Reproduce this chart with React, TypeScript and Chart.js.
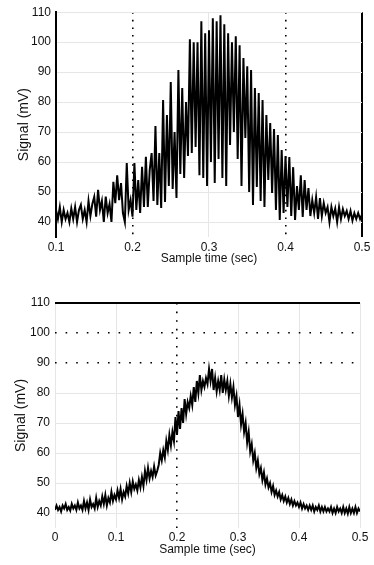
import React, { useEffect, useRef } from 'react';
import { Chart, registerables } from 'chart.js';

Chart.register(...registerables);

// Sampling grid
const TOP_START = 0.1;
const BOTTOM_START = 0;
const SAMPLE_STEP = 0.0025;

// Top panel signal (mV), one value per sample from 0.1 s to 0.5 s
const TOP_SIGNAL = [
  44, 41, 45, 40, 44, 41, 43, 40, 44.5, 41,
  45, 40, 44, 45.7, 41, 44, 40, 47, 42, 46,
  48.4, 41.8, 50.7, 44, 47, 40, 48.5, 43, 46, 40,
  53.4, 46.3, 55.6, 47.3, 53, 43, 40, 59.7, 44, 47.3,
  41.8, 59.7, 44, 54, 43, 58.4, 45, 61.8, 45, 57.3,
  63, 47, 72, 45.7, 63, 44.7, 80.7, 46.7, 75.7, 52,
  86.7, 51, 70, 48, 90.7, 56, 84.7, 54.7, 80, 62,
  101, 63, 100, 65, 100, 55.6, 107, 54.7, 103, 52,
  104, 60, 108, 53, 107, 61, 109, 54.7, 106, 52,
  103, 65.7, 100, 70, 102, 61, 99, 52, 94.7, 68,
  92, 50, 90.7, 45.7, 84.7, 51.7, 83, 47, 80.7, 45,
  75.7, 54, 73, 49.7, 71, 44, 69, 40.7, 64, 43,
  62, 45, 61.7, 42, 58.3, 40.7, 52, 44, 55.6, 41.7,
  54, 44, 51.3, 42, 47.3, 43, 48.3, 41, 48, 42,
  46.3, 43, 45, 40, 45, 42, 44.5, 40, 45, 41,
  44.3, 42, 43.7, 41, 43.7, 40.5, 43, 41, 43, 41,
  42.5,
];

// Bottom panel signal (mV), one value per sample from 0 s to 0.5 s
const BOTTOM_SIGNAL = [
  41, 42.5, 41, 42, 40.5, 42.5, 41.5, 43, 41, 42,
  40.8, 43, 41.5, 42.5, 41, 43.5, 41.5, 42.5, 41, 44,
  41.5, 43.5, 41, 44.5, 42, 43, 41.5, 45, 42, 44,
  42.5, 45.5, 43, 46, 42.5, 45, 43.5, 47, 44, 46,
  44.5, 47.5, 45, 48, 44.5, 47, 45.5, 49, 46.5, 50,
  47, 50.5, 48, 49.5, 47.5, 51, 48.5, 52, 49, 54,
  51, 55, 51.5, 54, 52, 55.5, 52.5, 54, 56, 60,
  57.5, 61, 58.5, 64, 61, 66, 62.5, 67, 64, 72,
  66, 74, 68, 75, 70, 78, 73, 77, 75, 79,
  76, 82, 77, 84, 80, 86, 81, 84, 82, 85,
  83, 88, 84, 88, 81, 85, 80.5, 84, 81, 86,
  80, 84.5, 81, 84, 79, 83, 78.5, 82, 76, 79,
  72, 76, 69.5, 73, 67, 70, 63.5, 67, 60.5, 63,
  57.5, 60, 55, 57.5, 53, 55, 51, 53.5, 49.5, 51.5,
  48.5, 50, 47, 49, 46, 47.5, 45.5, 47, 44.5, 46,
  44, 45.5, 43.5, 45, 43, 44.5, 42.5, 44, 42.5, 43.5,
  42, 43.5, 41.5, 43, 41.5, 42.5, 41, 42.5, 41, 42.5,
  40.5, 42, 41, 42.5, 40.5, 42, 40.5, 42, 40.5, 41.5,
  40.5, 42, 40, 41.5, 40, 42, 40.5, 41.5, 40, 42,
  40, 41.5, 39.8, 42, 40, 41.5, 40, 42, 40, 41.5,
  40.5,
];

const TOP_X_TICKS = [0.1, 0.2, 0.3, 0.4, 0.5];
const BOTTOM_X_TICKS = [0, 0.1, 0.2, 0.3, 0.4, 0.5];
const Y_TICKS = [40, 50, 60, 70, 80, 90, 100, 110];
const TOP_DOTTED_X = [0.2, 0.4];
const TOP_SOLID_X = [0.5];
const BOTTOM_DOTTED_X = [0.2];
const BOTTOM_DOTTED_Y = [90, 100];
const BOTTOM_SOLID_Y = [110];

const X_TITLE = 'Sample time (sec)';
const Y_TITLE = 'Signal (mV)';

const FONT = 'Liberation Sans';
const TEXT = '#111';
const FAINT = '#e6e6e6';

function toPoints(start: number, values: number[]) {
  return values.map((v, i) => ({ x: +(start + i * SAMPLE_STEP).toFixed(4), y: v }));
}

function isIn(list: number[], v: number) {
  return list.some((a) => Math.abs(a - v) < 1e-9);
}

function TopChart() {
  const ref = useRef<HTMLCanvasElement | null>(null);
  useEffect(() => {
    if (!ref.current) return;
    const chart = new Chart(ref.current, {
      type: 'line',
      data: {
        datasets: [
          {
            data: toPoints(TOP_START, TOP_SIGNAL),
            borderColor: '#000',
            borderWidth: 2,
            pointRadius: 0,
            tension: 0,
            fill: false,
          },
        ],
      },
      options: {
        animation: false,
        responsive: false,
        events: [],
        layout: { padding: { left: 0, right: 12, top: 12, bottom: 0 } },
        plugins: { legend: { display: false }, tooltip: { enabled: false } },
        scales: {
          x: {
            type: 'linear',
            min: 0.1,
            max: 0.5,
            afterBuildTicks: (axis: any) => {
              axis.ticks = TOP_X_TICKS.map((v) => ({ value: v }));
            },
            afterFit: (axis: any) => {
              axis.height = 33;
            },
            ticks: {
              padding: 3,
              color: TEXT,
              font: { family: FONT, size: 12 },
              callback: (v: any) => String(v),
              maxRotation: 0,
            },
            grid: {
              drawTicks: false,
              color: (c: any) => {
                const v = c.tick ? c.tick.value : 0;
                if (isIn(TOP_DOTTED_X, v) || isIn(TOP_SOLID_X, v)) return '#000';
                return FAINT;
              },
              lineWidth: (c: any) => {
                const v = c.tick ? c.tick.value : 0;
                if (isIn(TOP_SOLID_X, v)) return 2;
                if (isIn(TOP_DOTTED_X, v)) return 1.6;
                return 1;
              },
            },
            border: {
              display: false,
              dash: (c: any) => {
                const v = c.tick ? c.tick.value : 0;
                return isIn(TOP_DOTTED_X, v) ? [1.6, 6] : [];
              },
            },
            title: {
              display: true,
              text: X_TITLE,
              color: TEXT,
              font: { family: FONT, size: 12 },
              padding: { top: 0, bottom: 4 },
            },
          },
          y: {
            type: 'linear',
            min: 35,
            max: 110,
            afterBuildTicks: (axis: any) => {
              axis.ticks = Y_TICKS.map((v) => ({ value: v }));
            },
            afterFit: (axis: any) => {
              axis.width = 56;
            },
            ticks: {
              padding: 5,
              color: TEXT,
              font: { family: FONT, size: 12 },
              callback: (v: any) => String(v),
            },
            grid: { drawTicks: false, color: FAINT, lineWidth: 1 },
            border: { display: true, color: '#000', width: 2 },
            title: {
              display: true,
              text: Y_TITLE,
              color: TEXT,
              font: { family: FONT, size: 14 },
              padding: { top: 16, bottom: 0 },
            },
          },
        },
      },
    } as any);
    return () => chart.destroy();
  }, []);
  return <canvas ref={ref} width={374} height={270} style={{ display: 'block' }} />;
}

function BottomChart() {
  const ref = useRef<HTMLCanvasElement | null>(null);
  useEffect(() => {
    if (!ref.current) return;
    const chart = new Chart(ref.current, {
      type: 'line',
      data: {
        datasets: [
          {
            data: toPoints(BOTTOM_START, BOTTOM_SIGNAL),
            borderColor: '#000',
            borderWidth: 2,
            pointRadius: 0,
            tension: 0,
            fill: false,
          },
        ],
      },
      options: {
        animation: false,
        responsive: false,
        events: [],
        layout: { padding: { left: 0, right: 14, top: 33, bottom: 0 } },
        plugins: { legend: { display: false }, tooltip: { enabled: false } },
        scales: {
          x: {
            type: 'linear',
            min: 0,
            max: 0.5,
            afterBuildTicks: (axis: any) => {
              axis.ticks = BOTTOM_X_TICKS.map((v) => ({ value: v }));
            },
            afterFit: (axis: any) => {
              axis.height = 37;
            },
            ticks: {
              padding: 2,
              color: TEXT,
              font: { family: FONT, size: 12 },
              callback: (v: any) => String(v),
              maxRotation: 0,
            },
            grid: {
              drawTicks: false,
              color: (c: any) => {
                const v = c.tick ? c.tick.value : 0;
                return isIn(BOTTOM_DOTTED_X, v) ? '#000' : FAINT;
              },
              lineWidth: (c: any) => {
                const v = c.tick ? c.tick.value : 0;
                return isIn(BOTTOM_DOTTED_X, v) ? 1.6 : 1;
              },
            },
            border: {
              display: false,
              dash: (c: any) => {
                const v = c.tick ? c.tick.value : 0;
                return isIn(BOTTOM_DOTTED_X, v) ? [1.6, 7] : [];
              },
            },
            title: {
              display: true,
              text: X_TITLE,
              color: TEXT,
              font: { family: FONT, size: 12 },
              padding: { top: 0, bottom: 8 },
            },
          },
          y: {
            type: 'linear',
            min: 35,
            max: 110,
            afterBuildTicks: (axis: any) => {
              axis.ticks = Y_TICKS.map((v) => ({ value: v }));
            },
            afterFit: (axis: any) => {
              axis.width = 55;
            },
            ticks: {
              padding: 5,
              color: TEXT,
              font: { family: FONT, size: 12 },
              callback: (v: any) => String(v),
            },
            grid: {
              drawTicks: false,
              color: (c: any) => {
                const v = c.tick ? c.tick.value : 0;
                if (isIn(BOTTOM_SOLID_Y, v) || isIn(BOTTOM_DOTTED_Y, v)) return '#000';
                return FAINT;
              },
              lineWidth: (c: any) => {
                const v = c.tick ? c.tick.value : 0;
                if (isIn(BOTTOM_SOLID_Y, v)) return 2;
                if (isIn(BOTTOM_DOTTED_Y, v)) return 1.6;
                return 1;
              },
            },
            border: {
              display: false,
              dash: (c: any) => {
                const v = c.tick ? c.tick.value : 0;
                return isIn(BOTTOM_DOTTED_Y, v) ? [1.6, 9] : [];
              },
            },
            title: {
              display: true,
              text: Y_TITLE,
              color: TEXT,
              font: { family: FONT, size: 14 },
              padding: { top: 13, bottom: 0 },
            },
          },
        },
      },
    } as any);
    return () => chart.destroy();
  }, []);
  return <canvas ref={ref} width={374} height={295} style={{ display: 'block' }} />;
}

export default function App() {
  return (
    <div style={{ position: 'absolute', left: 0, top: 0, width: 374, height: 565, background: '#fff' }}>
      <TopChart />
      <BottomChart />
    </div>
  );
}
